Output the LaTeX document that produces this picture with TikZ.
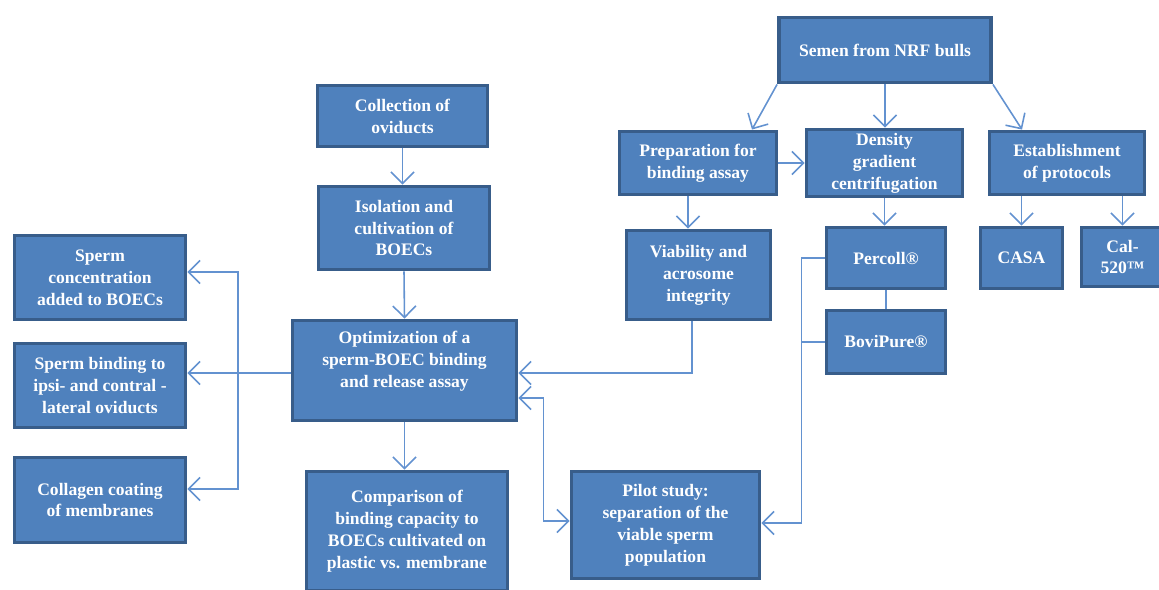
\documentclass[tikz,border=0pt]{standalone}
\usepackage{fontspec}
\setmainfont{Liberation Serif}
\usetikzlibrary{arrows.meta}
\definecolor{boxfill}{HTML}{4F81BD}
\definecolor{boxline}{HTML}{385D8A}
\definecolor{linkcol}{HTML}{6392D0}
\begin{document}
\begin{tikzpicture}[x=0.02cm, y=-0.02cm,
	main node/.style={rectangle,draw=boxline,line width=2.2pt,fill=boxfill,text=white,
		align=center,inner sep=2pt,font=\fontsize{10}{12.5}\selectfont\bfseries},
	link/.style={draw=linkcol,line width=0.9pt,-{Straight Barb[length=2.3mm,width=4.6mm]}},
	both link/.style={draw=linkcol,line width=0.9pt,{Straight Barb[length=2.3mm,width=4.6mm]}-{Straight Barb[length=2.3mm,width=4.6mm]}},
	plain link/.style={draw=linkcol,line width=0.9pt}]
	\useasboundingbox (0,0) rectangle (1159,590);

	% top right branch
	\node[main node,minimum width=4.24cm,minimum height=1.3cm] (semen) at (885,50) {Semen from NRF bulls};
	\node[main node,minimum width=3.14cm,minimum height=1.26cm] (prep) at (698,163) {Preparation for\\binding assay};
	\node[main node,minimum width=3.12cm,minimum height=1.26cm] (dens) at (884.5,163) {Density\\gradient\\centrifugation};
	\node[main node,minimum width=3.1cm,minimum height=1.26cm] (estab) at (1067,163) {Establishment\\of protocols};
	\node[main node,minimum width=2.88cm,minimum height=1.78cm] (viab) at (698.5,275) {Viability and\\acrosome\\integrity};
	\node[main node,minimum width=2.38cm,minimum height=1.22cm] (percoll) at (886,258) {Percoll®};
	\node[main node,minimum width=2.38cm,minimum height=1.26cm] (bovi) at (886,342) {BoviPure®};
	\node[main node,minimum width=1.64cm,minimum height=1.22cm] (casa) at (1021.5,258) {CASA};
	\node[main node,minimum width=1.64cm,minimum height=1.18cm] (cal) at (1122.5,257) {Cal-\\520™};

	% oviduct column
	\node[main node,minimum width=3.4cm,minimum height=1.22cm] (collect) at (402.5,116) {Collection of\\oviducts};
	\node[main node,minimum width=3.42cm,minimum height=1.66cm] (isol) at (404,228) {Isolation and\\cultivation of\\BOECs};
	\node[main node,minimum width=4.48cm,minimum height=2cm] (optim) at (404.5,370.5) {Optimization of a\\sperm-BOEC binding\\and release assay\\ \mbox{}};
	\node[main node,minimum width=4.02cm,minimum height=2.38cm] (comp) at (407,531) {Comparison of\\binding capacity to\\BOECs cultivated on\\plastic vs. membrane};
	\node[main node,minimum width=3.76cm,minimum height=2.14cm] (pilot) at (665.5,525) {Pilot study:\\separation of the\\viable sperm\\population};

	% left column
	\node[main node,minimum width=3.42cm,minimum height=1.68cm] (conc) at (100,277.5) {Sperm\\concentration\\added to BOECs};
	\node[main node,minimum width=3.42cm,minimum height=1.68cm] (bind) at (100,385.5) {Sperm binding to\\ipsi- and contral -\\lateral oviducts};
	\node[main node,minimum width=3.42cm,minimum height=1.7cm] (coll) at (100,500) {Collagen coating\\of membranes};

	\coordinate (rail) at (238,373);

	% connectors
	\path[link] (semen.south west) -- ([xshift=1.08cm]prep.north);
	\path[link] (semen.south) -- (semen.south |- dens.north);
	\path[link] (semen.south east) -- ([xshift=-0.9cm]estab.north);
	\path[link] (prep.east) -- (dens.west);
	\path[link] ([xshift=-0.2cm]prep.south) -- ([xshift=-0.2cm]prep.south |- viab.north);
	\path[link] (dens.south) -- (dens.south |- percoll.north);
	\path[link] (estab.south -| casa.north) -- (casa.north);
	\path[link] (estab.south -| cal.north) -- (cal.north);
	\path[plain link] (percoll.south) -- (bovi.north);
	\path[link] (percoll.west) -- ++(-0.46cm,0) |- ([yshift=0.04cm]pilot.east);
	\path[plain link] (bovi.west) -- ++(-0.46cm,0);
	\path[link] ([xshift=-0.13cm]viab.south) |- ([yshift=-0.05cm]optim.east);
	\path[both link] ([yshift=-0.55cm]optim.east) -- ++(0.5cm,0) |- ([yshift=0.08cm]pilot.west);
	\path[link] (optim.south) -- (optim.south |- comp.north);
	\path[link] (collect.south) -- (collect.south |- isol.north);
	\path[link] (isol.south) -- (optim.north);
	\path[link] ([yshift=-0.05cm]optim.west) -- ([yshift=-0.05cm]optim.west -| bind.east);
	\path[link] (rail) |- ([yshift=0.11cm]conc.east);
	\path[link] (rail) |- ([yshift=0.22cm]coll.east);
\end{tikzpicture}
\end{document}
